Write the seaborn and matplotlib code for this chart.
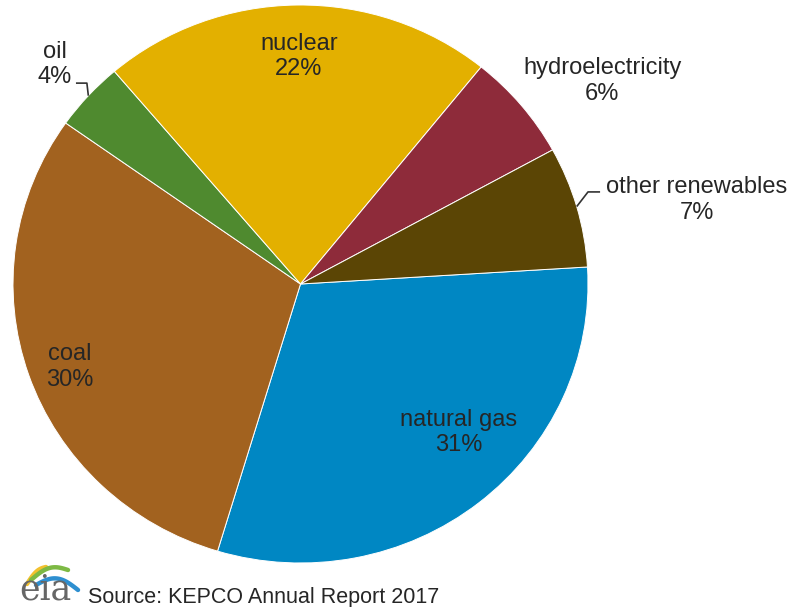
import numpy as np
import matplotlib
matplotlib.use("Agg")
import matplotlib.pyplot as plt
import seaborn as sns

# ---- data ----
categories = ["natural gas", "coal", "oil", "nuclear", "hydroelectricity", "other renewables"]
shares = [30.6, 30.1, 4.0, 22.0, 6.2, 7.0]
pct_labels = ["31%", "30%", "4%", "22%", "6%", "7%"]
source_text = "Source: KEPCO Annual Report 2017"

# ---- styles / positions ----
colors = ["#0087C3", "#A2621F", "#4F8A2F", "#E3B000", "#8E2B3A", "#5B4505"]
label_pos = [(0.551, -0.532), (-0.802, -0.298), (-0.854, 0.786),
             (-0.005, 0.816), (1.049, 0.727), (1.379, 0.301)]
# leader lines: (index, elbow, end)
leaders = {2: [(-0.743, 0.720), (-0.781, 0.720)],
           5: [(1.0, 0.330), (1.042, 0.330)]}

sns.set_theme(style="white")
plt.rcParams["font.family"] = ["Liberation Sans", "DejaVu Sans"]

fig = plt.figure(figsize=(7.9, 6.07), dpi=100)
ax = fig.add_axes([0, 0, 1, 1])
start = 3.5
wedges, _ = ax.pie(shares, colors=colors, startangle=start, counterclock=False,
                   radius=1, center=(0, 0),
                   wedgeprops=dict(edgecolor="white", linewidth=0.7))
ax.set_aspect("auto")
ax.set_xlim(-300.5 / 287.5, 489.5 / 287.5)
ax.set_ylim(-323 / 279, 284 / 279)
ax.axis("off")

txtc = "#262626"
for i, (cat, pct) in enumerate(zip(categories, pct_labels)):
    x, y = label_pos[i]
    ax.text(x, y, f"{cat}\n{pct}", ha="center", va="center", fontsize=17,
            color=txtc, linespacing=1.2)
    if i in leaders:
        w = wedges[i]
        mid = np.deg2rad((w.theta1 + w.theta2) / 2)
        pts = [(np.cos(mid), np.sin(mid))] + leaders[i]
        ax.plot([p[0] for p in pts], [p[1] for p in pts], color="#333333", lw=1.2,
                solid_capstyle="butt")

# ---- footer: logo + source ----
ov = fig.add_axes([0, 0, 1, 1], facecolor="none")
ov.set_xlim(0, 790)
ov.set_ylim(607, 0)
ov.axis("off")
t = np.linspace(0, 1, 50)
# swoosh arcs of the logo
for (x0, y0, x1, y1, bulge, c, lw) in [
        (27, 584, 46, 567, 4, "#F2C12E", 3.2),
        (31, 580, 68, 570, 7, "#7DB944", 3.2),
        (36, 585, 78, 590, 9, "#2E8FD0", 3.2)]:
    xs = x0 + (x1 - x0) * t
    ys = y0 + (y1 - y0) * t - bulge * np.sin(np.pi * t)
    ov.plot(xs, ys, color=c, lw=lw, solid_capstyle="round")
ov.text(19, 606, "eia", fontsize=25, family="DejaVu Serif", color="#666666",
        ha="left", va="bottom")
ov.text(88, 603, source_text, fontsize=15.5, color=txtc, ha="left", va="baseline")

fig.savefig("out.png", dpi=100)
